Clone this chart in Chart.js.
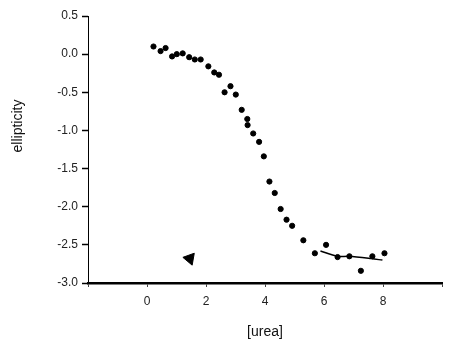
<!DOCTYPE html>
<html>
<head>
<meta charset="utf-8">
<script src="https://cdn.jsdelivr.net/npm/chart.js@4.4.1/dist/chart.umd.min.js"></script>
<style>
  html, body { margin: 0; padding: 0; background: #fff; }
  #wrap { width: 450px; height: 345px; position: relative; }
</style>
</head>
<body>
<div id="wrap"><canvas id="c"></canvas></div>
<script>
// measured points (urea, ellipticity)
const ureaVals = [0.22, 0.46, 0.63, 0.85, 1.01, 1.21, 1.43, 1.62, 1.82, 2.08, 2.28, 2.44,
                  2.63, 2.83, 3.01, 3.21, 3.40, 3.41, 3.60, 3.80, 3.96, 4.15, 4.33, 4.53,
                  4.73, 4.92, 5.30, 5.69, 6.07, 6.46, 6.86, 7.25, 7.64, 8.05];
const ellipVals = [0.10, 0.04, 0.08, -0.03, 0.00, 0.01, -0.04, -0.07, -0.07, -0.16, -0.24, -0.27,
                   -0.50, -0.42, -0.53, -0.73, -0.85, -0.93, -1.04, -1.15, -1.34, -1.67, -1.82, -2.03,
                   -2.17, -2.25, -2.44, -2.61, -2.50, -2.66, -2.65, -2.84, -2.65, -2.61];
// fitted curve (tail visible in the figure)
const fitX = [5.88, 6.45, 6.84, 7.60, 7.98];
const fitY = [-2.58, -2.65, -2.65, -2.68, -2.70];
// scan blot
const blotX = [1.45];
const blotY = [-2.68];

const xTicks = [0, 2, 4, 6, 8];

const toPts = (xs, ys) => xs.map((x, i) => ({ x: x, y: ys[i] }));

// y title drawn by hand, it sits above the centre of the axis in the figure
const yTitle = {
    id: 'yTitle',
    afterDraw(chart) {
        const ctx = chart.ctx;
        ctx.save();
        ctx.translate(18, 126);
        ctx.rotate(-Math.PI / 2);
        ctx.font = '14px "Liberation Sans", Arial, sans-serif';
        ctx.fillStyle = '#111';
        ctx.textAlign = 'center';
        ctx.textBaseline = 'middle';
        ctx.fillText('ellipticity', 0, 0);
        ctx.restore();
    }
};

new Chart(document.getElementById('c'), {
    type: 'scatter',
    data: {
        datasets: [
            {
                label: 'data',
                data: toPts(ureaVals, ellipVals),
                backgroundColor: '#000',
                borderColor: '#000',
                pointRadius: 2.6,
                pointHoverRadius: 2.6
            },
            {
                label: 'fit',
                type: 'line',
                data: toPts(fitX, fitY),
                borderColor: '#000',
                borderWidth: 1.5,
                pointRadius: 0,
                tension: 0.3,
                fill: false
            },
            {
                label: 'blot',
                data: toPts(blotX, blotY),
                pointStyle: 'triangle',
                rotation: -80,
                pointRadius: 7,
                backgroundColor: '#000',
                borderColor: '#000'
            }
        ]
    },
    options: {
        responsive: true,
        maintainAspectRatio: false,
        animation: false,
        layout: { padding: { top: 16, right: 1, left: 0, bottom: 0 } },
        plugins: {
            legend: { display: false },
            tooltip: { enabled: false }
        },
        scales: {
            x: {
                type: 'linear',
                min: -2,
                max: 10,
                afterFit(s) { s.height = 62; },
                afterBuildTicks(s) { s.ticks = [-2, 0, 2, 4, 6, 8, 10].map(v => ({ value: v })); },
                grid: { drawOnChartArea: false, tickLength: 4, color: '#444', tickWidth: 1 },
                border: { color: '#000', width: 2.5 },
                ticks: {
                    padding: 7,
                    color: '#222',
                    font: { family: '"Liberation Sans", Arial, sans-serif', size: 12 },
                    callback: v => xTicks.includes(v) ? String(v) : ''
                },
                title: {
                    display: true,
                    text: '[urea]',
                    color: '#111',
                    font: { family: '"Liberation Sans", Arial, sans-serif', size: 14 },
                    padding: { top: 14 }
                }
            },
            y: {
                type: 'linear',
                min: -3,
                max: 0.5,
                afterFit(s) { s.width = 88; },
                grid: { drawOnChartArea: false, tickLength: 6, color: '#000', tickWidth: 1.5 },
                border: { color: '#000', width: 1 },
                ticks: {
                    stepSize: 0.5,
                    padding: 4,
                    color: '#222',
                    font: { family: '"Liberation Sans", Arial, sans-serif', size: 12 },
                    callback: v => v.toFixed(1)
                }
            }
        }
    },
    plugins: [yTitle]
});
</script>
</body>
</html>
